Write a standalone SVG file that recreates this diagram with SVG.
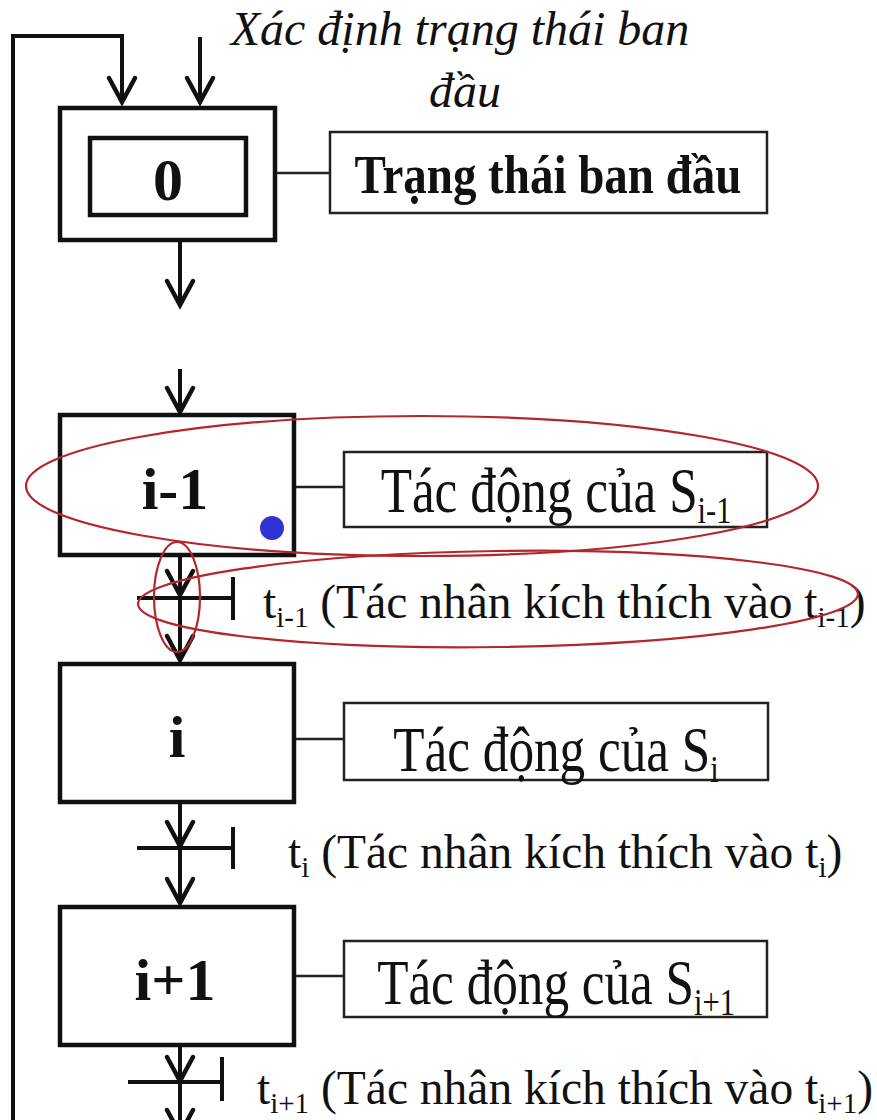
<svg xmlns="http://www.w3.org/2000/svg" xmlns:xlink="http://www.w3.org/1999/xlink" width="877" height="1120" viewBox="0 0 877 1120">
<style>
text{font-family:"Liberation Serif","Times New Roman",serif;fill:#111;}
.state{fill:#fff;stroke:#111;stroke-width:4.5;}
.lbl{fill:#fff;stroke:#222;stroke-width:2.5;}
.num{font-weight:bold;font-size:60px;text-anchor:middle;}
.act{font-size:64px;text-anchor:middle;}
.tr{font-size:47.5px;}
.ln{fill:none;stroke:#111;stroke-width:4;}
.thin{fill:none;stroke:#222;stroke-width:2.5;}
.ah{fill:none;stroke:#111;stroke-width:4.5;stroke-linecap:round;stroke-linejoin:miter;}
.red{fill:none;stroke:#b3262c;stroke-width:2.2;}
</style>
<defs>
<path id="ah" class="ah" d="M-13,-24 L0,0 L13,-24"/>
</defs>
<rect width="877" height="1120" fill="#fff"/>

<g id="title">
<text font-style="italic" font-size="48" text-anchor="middle"><tspan x="460" y="45">Xác định trạng thái ban</tspan><tspan x="465" y="107">đầu</tspan></text>
</g>

<g id="node-0">
<rect class="state" x="60" y="108" width="215" height="132"/>
<rect class="state" x="90" y="138" width="156" height="77"/>
<text class="num" x="168" y="200">0</text>
</g>
<g id="label-0">
<rect class="lbl" x="330" y="132" width="437" height="81"/>
<text font-weight="bold" font-size="54" text-anchor="middle" transform="translate(548,193) scale(0.87,1)">Trạng thái ban đầu</text>
</g>

<g id="node-i-1">
<rect class="state" x="60" y="415" width="234" height="140"/>
<text class="num" x="175" y="509">i-1</text>
<circle cx="272" cy="528" r="12" fill="#3232d2"/>
</g>
<g id="label-i-1">
<rect class="lbl" x="344" y="452" width="423" height="75"/>
<text class="act" transform="translate(556,512) scale(0.8,1)">Tác động của S<tspan font-size="38" dy="11">i-1</tspan></text>
</g>

<g id="node-i">
<rect class="state" x="60" y="664" width="234" height="138"/>
<text class="num" x="177" y="757">i</text>
</g>
<g id="label-i">
<rect class="lbl" x="344" y="703" width="424" height="77"/>
<text class="act" transform="translate(556,771) scale(0.8,1)">Tác động của S<tspan font-size="38" dy="11">i</tspan></text>
</g>

<g id="node-i+1">
<rect class="state" x="60" y="907" width="234" height="138"/>
<text class="num" x="175" y="1000">i+1</text>
</g>
<g id="label-i+1">
<rect class="lbl" x="344" y="941" width="423" height="76"/>
<text class="act" transform="translate(556,1004) scale(0.8,1)">Tác động của S<tspan font-size="38" dy="11">i+1</tspan></text>
</g>

<g id="transitions">
<text class="tr" x="263" y="618">t<tspan font-size="29" dy="9">i-1</tspan><tspan dy="-9"> (Tác nhân kích thích vào t</tspan><tspan font-size="29" dy="9">i-1</tspan><tspan dy="-9">)</tspan></text>
<text class="tr" x="288" y="868">t<tspan font-size="29" dy="9">i</tspan><tspan dy="-9"> (Tác nhân kích thích vào t</tspan><tspan font-size="29" dy="9">i</tspan><tspan dy="-9">)</tspan></text>
<text class="tr" x="257" y="1104">t<tspan font-size="29" dy="9">i+1</tspan><tspan dy="-9"> (Tác nhân kích thích vào t</tspan><tspan font-size="29" dy="9">i+1</tspan><tspan dy="-9">)</tspan></text>
</g>

<g id="connectors">
<polyline class="ln" points="13,1122 13,36 122,36 122,102"/>
<use xlink:href="#ah" x="122" y="102"/>
<line class="ln" x1="200" y1="37" x2="200" y2="102"/>
<use xlink:href="#ah" x="200" y="102"/>
<line class="ln" x1="180" y1="242" x2="180" y2="305"/>
<use xlink:href="#ah" x="180" y="305"/>
<line class="ln" x1="180" y1="369" x2="180" y2="412"/>
<use xlink:href="#ah" x="180" y="412"/>
<line class="ln" x1="180" y1="557" x2="180" y2="660"/>
<use xlink:href="#ah" x="180" y="595"/>
<use xlink:href="#ah" x="180" y="660"/>
<line class="ln" x1="137" y1="598" x2="233" y2="598"/>
<line class="ln" x1="233" y1="577" x2="233" y2="620"/>
<line class="ln" x1="180" y1="804" x2="180" y2="903"/>
<use xlink:href="#ah" x="180" y="846"/>
<use xlink:href="#ah" x="180" y="903"/>
<line class="ln" x1="137" y1="848" x2="233" y2="848"/>
<line class="ln" x1="233" y1="827" x2="233" y2="869"/>
<line class="ln" x1="180" y1="1047" x2="180" y2="1122"/>
<use xlink:href="#ah" x="180" y="1081"/>
<use xlink:href="#ah" x="180" y="1134"/>
<line class="ln" x1="128" y1="1082" x2="222" y2="1082"/>
<line class="ln" x1="222" y1="1057" x2="222" y2="1101"/>
<line class="thin" x1="277" y1="173" x2="330" y2="173"/>
<line class="thin" x1="296" y1="487" x2="344" y2="487"/>
<line class="thin" x1="296" y1="739" x2="344" y2="739"/>
<line class="thin" x1="296" y1="976" x2="344" y2="976"/>
</g>

<g id="highlights">
<ellipse class="red" cx="422" cy="486" rx="396" ry="70"/>
<ellipse class="red" cx="498" cy="599" rx="360" ry="48" transform="rotate(-0.8 498 599)"/>
<ellipse class="red" cx="177" cy="597" rx="23" ry="55"/>
</g>
</svg>
